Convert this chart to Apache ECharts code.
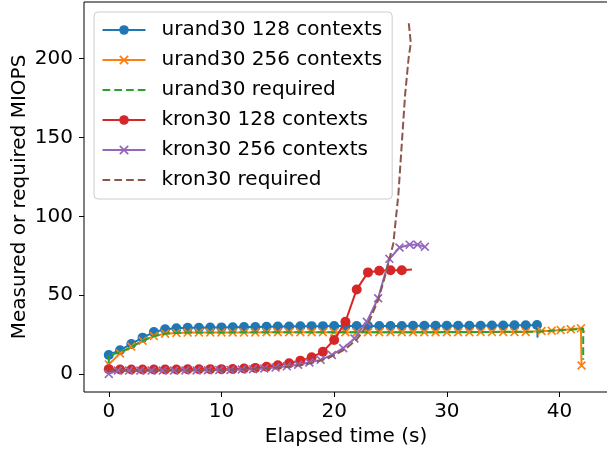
<!DOCTYPE html>
<html>
<head>
<meta charset="utf-8">
<script src="https://cdn.jsdelivr.net/npm/echarts@6/dist/echarts.min.js"></script>
<style>
html, body { margin: 0; padding: 0; background: #fff; }
#chart { width: 607px; height: 452px; }
</style>
</head>
<body>
<div id="chart"></div>
<script>
var xTicks = [0, 10, 20, 30, 40];
var yTicks = [0, 50, 100, 150, 200];

// urand30 128 contexts
var urand128X = [0, 1, 2, 3, 4, 5, 6, 7, 8, 9, 10, 11, 12, 13, 14, 15, 16, 17, 18, 19,
    20, 21, 22, 23, 24, 25, 26, 27, 28, 29, 30, 31, 32, 33, 34, 35, 36, 37, 38];
var urand128Y = [12, 15, 19, 23, 26.5, 28.3, 29, 29.2, 29.3, 29.4, 29.5, 29.6, 29.7, 29.8, 29.9, 30, 30.1, 30.2, 30.3, 30.3,
    30.4, 30.4, 30.4, 30.4, 30.4, 30.4, 30.4, 30.5, 30.5, 30.5, 30.5, 30.6, 30.6, 30.6, 30.7, 30.7, 30.8, 30.9, 31];
var urand128End = [38.05, 23];

// urand30 256 contexts
var urand256X = [0, 1, 2, 3, 4, 5, 6, 7, 8, 9, 10, 11, 12, 13, 14, 15, 16, 17, 18, 19,
    20, 21, 22, 23, 24, 25, 26, 27, 28, 29, 30, 31, 32, 33, 34, 35, 36, 37, 38.4, 39.3, 40.1, 41, 41.9, 41.95];
var urand256Y = [6, 13, 17.3, 21, 24, 25.5, 26, 26.2, 26.3, 26.3, 26.3, 26.3, 26.3, 26.3, 26.4, 26.4, 26.4, 26.4, 26.4, 26.4,
    26.4, 26.4, 26.4, 26.4, 26.4, 26.4, 26.4, 26.4, 26.4, 26.4, 26.4, 26.4, 26.4, 26.5, 26.5, 26.5, 26.5, 26.6, 27.2, 27.4, 27.8, 28.3, 28.9, 5.3];

// urand30 required
var urandReqX = [0, 0, 1, 2, 3, 4, 5, 6, 8, 15, 30, 38, 41.9, 42.1, 42.1];
var urandReqY = [0, 12, 13.5, 17, 21, 24, 25.5, 26, 26.3, 26.4, 26.5, 26.8, 28.5, 29, 9];

// kron30 128 contexts
var kron128X = [0, 1, 2, 3, 4, 5, 6, 7, 8, 9, 10, 11, 12, 13, 14, 15, 16, 17, 18, 19, 20, 21, 22, 23, 24, 25, 26];
var kron128Y = [3, 2.8, 2.8, 2.8, 2.8, 2.8, 2.8, 2.9, 2.9, 3, 3, 3.1, 3.4, 3.8, 4.5, 5.5, 6.8, 8.4, 10.5, 14.1, 21.5, 33.1, 53.6, 64.4, 65.4, 65.8, 65.8];
var kron128End = [26.9, 66.2];

// kron30 256 contexts
var kron256X = [0, 0.8, 1.8, 2.8, 3.8, 4.8, 5.8, 6.8, 7.8, 8.8, 9.8, 10.8, 11.8, 12.8, 13.8, 14.8, 15.8, 16.8, 17.8,
    18.8, 19.8, 20.8, 21.8, 22.9, 23.9, 24.9, 25.8, 26.7, 27.4, 28.05];
var kron256Y = [0, 2.1, 2.1, 2.1, 2.1, 2.1, 2.1, 2.2, 2.2, 2.3, 2.4, 2.5, 2.7, 3, 3.4, 4, 4.8, 5.8, 7.2,
    8.9, 12, 16.3, 22.5, 33.1, 48, 73, 80.2, 82, 82, 80.6];

// kron30 required
var kronReqX = [0, 5, 10, 12, 14, 16, 17, 18, 19, 20, 21, 22, 23, 23.9, 24.5, 25.25, 25.7, 26, 26.3, 26.6, 26.8, 26.6];
var kronReqY = [2, 2.1, 2.5, 2.9, 3.5, 4.6, 5.5, 6.9, 8.9, 11.8, 15.8, 21.8, 31.5, 46.8, 61.6, 82.7, 114, 146, 177.6, 200, 210, 224];

var crossPath = 'path://M1.3,0L5,3.7L8.7,0L10,1.3L6.3,5L10,8.7L8.7,10L5,6.3L1.3,10L0,8.7L3.7,5L0,1.3Z';
// legend icon for the dashed "required" lines
var dashIcon = 'path://M0,0h7.7v2h-7.7z M11.8,0h7.7v2h-7.7z M23.6,0h7.7v2h-7.7z M35.3,0h7.7v2h-7.7z';
var dash = [7.7, 3.3];

function pairs(xs, ys) {
    return xs.map(function (x, i) { return [x, ys[i]]; });
}

var blueData = pairs(urand128X, urand128Y);
blueData.push({ value: urand128End, symbol: 'none' });
var redData = pairs(kron128X, kron128Y);
redData.push({ value: kron128End, symbol: 'none' });

var font = 'DejaVu Sans';

var myChart = echarts.init(document.getElementById('chart'));

myChart.setOption({
    animation: false,
    grid: {
        left: 84, right: -1, top: 2, bottom: 60,
        outerBoundsMode: 'none',
        show: true, borderColor: '#000', borderWidth: 1, backgroundColor: '#fff'
    },
    legend: {
        orient: 'vertical',
        left: 94, top: 12,
        padding: [8, 10, 9, 7.5],
        itemWidth: 43, itemHeight: 12, itemGap: 10,
        backgroundColor: 'rgba(255,255,255,0.8)',
        borderColor: '#cccccc', borderWidth: 1, borderRadius: 4,
        textStyle: { fontFamily: font, fontSize: 20, color: '#000', lineHeight: 20, padding: [0, 0, 0, 11] },
        data: [
            'urand30 128 contexts',
            'urand30 256 contexts',
            { name: 'urand30 required', icon: dashIcon },
            'kron30 128 contexts',
            'kron30 256 contexts',
            { name: 'kron30 required', icon: dashIcon }
        ]
    },
    xAxis: {
        type: 'value',
        min: -2.2, max: 44.3,
        name: 'Elapsed time (s)',
        nameLocation: 'middle', nameGap: 35, nameMoveOverlap: false,
        nameTextStyle: { fontFamily: font, fontSize: 20, color: '#000' },
        axisLine: { show: false, onZero: false },
        axisTick: { show: true, length: 5, lineStyle: { color: '#000' }, customValues: xTicks },
        axisLabel: { fontFamily: font, fontSize: 20, color: '#000', margin: 10, customValues: xTicks },
        splitLine: { show: false }
    },
    yAxis: {
        type: 'value',
        min: -11.5, max: 236,
        name: 'Measured or required MIOPS',
        nameLocation: 'middle', nameGap: 54, nameRotate: 90, nameMoveOverlap: false,
        nameTextStyle: { fontFamily: font, fontSize: 20, color: '#000' },
        axisLine: { show: false, onZero: false },
        axisTick: { show: true, length: 5, lineStyle: { color: '#000' }, customValues: yTicks },
        axisLabel: { fontFamily: font, fontSize: 20, color: '#000', margin: 11, customValues: yTicks },
        splitLine: { show: false }
    },
    series: [
        {
            name: 'urand30 128 contexts', type: 'line', z: 2,
            data: blueData,
            color: '#1f77b4',
            symbol: 'circle', symbolSize: 10, showAllSymbol: true,
            lineStyle: { width: 2 }
        },
        {
            name: 'urand30 256 contexts', type: 'line', z: 3,
            data: pairs(urand256X, urand256Y),
            color: '#ff7f0e',
            symbol: crossPath, symbolSize: 9, showAllSymbol: true,
            lineStyle: { width: 2 }
        },
        {
            name: 'urand30 required', type: 'line', z: 4,
            data: pairs(urandReqX, urandReqY),
            color: '#2ca02c',
            symbol: 'none',
            lineStyle: { width: 2, type: dash }
        },
        {
            name: 'kron30 128 contexts', type: 'line', z: 5,
            data: redData,
            color: '#d62728',
            symbol: 'circle', symbolSize: 10, showAllSymbol: true,
            lineStyle: { width: 2 }
        },
        {
            name: 'kron30 256 contexts', type: 'line', z: 6,
            data: pairs(kron256X, kron256Y),
            color: '#9467bd',
            symbol: crossPath, symbolSize: 9, showAllSymbol: true,
            lineStyle: { width: 2 }
        },
        {
            name: 'kron30 required', type: 'line', z: 7,
            data: pairs(kronReqX, kronReqY),
            color: '#8c564b',
            symbol: 'none',
            lineStyle: { width: 2, type: dash }
        }
    ]
});
</script>
</body>
</html>
